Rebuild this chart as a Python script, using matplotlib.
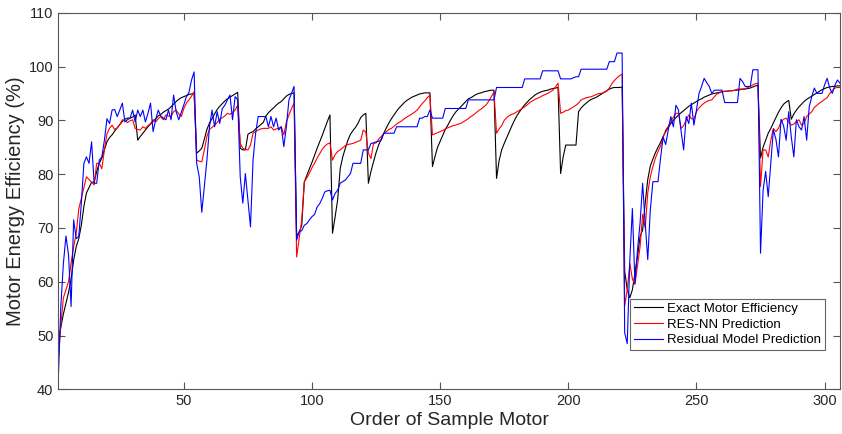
import numpy as np
import matplotlib.pyplot as plt

plt.rcParams['font.family'] = ['Liberation Sans', 'DejaVu Sans']

# exact motor efficiency (%), one value per sample motor
exact = [
    49, 51.5, 54, 56, 58, 60.5, 64, 66.5, 68, 70.5,
    74, 76.5, 77.5, 78.5, 78.5, 80.5, 82, 83, 84.5, 86,
    86.8, 87.3, 88, 88.6, 89.2, 89.8, 90.2, 90.4, 90.4, 90.6,
    91, 86.3, 87, 87.6, 88.2, 88.8, 89.3, 89.8, 90.3, 90.8,
    91.1, 91.5, 91.8, 92.1, 92.5, 93, 93.5, 93.9, 94.2, 94.4,
    94.6, 94.8, 94.9, 95, 83.9, 84.3, 84.8, 86.5, 88.3, 89.5,
    90.3, 91.2, 92, 92.6, 93.1, 93.6, 94, 94.3, 94.6, 94.9,
    95.2, 84.8, 84.5, 84.5, 87.4, 87.7, 87.9, 88.4, 88.8, 89.2,
    89.6, 90.8, 91.4, 91.9, 92.3, 92.8, 93.2, 93.5, 94, 94.5,
    94.8, 95, 95.1, 68.5, 69.2, 70.5, 78.5, 79.8, 81, 82.2,
    83.5, 84.8, 86, 87.2, 88.5, 89.8, 91, 69, 72, 75.2,
    81, 83.2, 84.8, 86.3, 87.4, 88.1, 88.7, 89.5, 90.5, 91,
    91.3, 78.3, 80.5, 82.3, 84, 85.4, 86.5, 87.6, 88.6, 89.5,
    90.3, 91, 91.7, 92.3, 92.8, 93.3, 93.7, 94, 94.3, 94.5,
    94.7, 94.9, 95, 95.1, 95.1, 95.1, 81.4, 83.3, 85, 86.1,
    87.2, 88.3, 89.1, 90, 90.8, 91.5, 92, 92.5, 93, 93.5,
    94, 94.2, 94.5, 94.8, 95, 95.1, 95.3, 95.4, 95.5, 95.6,
    95.6, 79.2, 82.5, 84.5, 85.7, 86.8, 87.9, 89, 90, 90.9,
    91.6, 92.3, 92.9, 93.4, 93.9, 94.3, 94.7, 95, 95.2, 95.4,
    95.5, 95.6, 95.8, 95.9, 96, 96.1, 80.1, 83.2, 85.4, 85.4,
    85.4, 85.4, 85.4, 91.6, 92.3, 92.8, 93.2, 93.6, 93.9, 94.1,
    94.3, 94.6, 94.9, 95.2, 95.5, 95.8, 96, 96.1, 96.1, 96.1,
    96.2, 62, 58.5, 57, 58.5, 61.6, 64.7, 68.4, 69.6, 74.6,
    79, 81.5, 82.8, 84, 85, 85.9, 87, 87.9, 88.7, 89.4,
    90, 90.5, 91, 91.4, 91.8, 92.2, 92.6, 92.9, 93.2, 93.5,
    93.8, 94, 94.3, 94.5, 94.7, 94.9, 95, 95.1, 95.2, 95.3,
    95.4, 95.4, 95.5, 95.5, 95.6, 95.6, 95.7, 95.8, 95.8, 95.9,
    96, 96.2, 96.4, 96.5, 83, 85, 86.3, 87.6, 88.5, 89.5,
    90.5, 91.5, 92.3, 93, 93.4, 93.7, 90.2, 91.2, 91.9, 92.5,
    93, 93.5, 93.9, 94.2, 94.5, 94.8, 95.1, 95.4, 95.7, 95.9,
    96.1, 96.2, 96.3, 96.3, 96.4, 96.4,
]

# RES-NN prediction
res_nn = [
    45.5, 52, 57, 58.5, 60, 63.5, 66.5, 69, 73.5, 75.5,
    77.5, 79.5, 79, 78.5, 78, 82, 82, 81, 84.5, 87.5,
    88.5, 89.1, 88.3, 88.6, 89.2, 90.1, 89.9, 89.6, 89.9, 90.1,
    88.5, 88.3, 88.2, 88.8, 88.5, 89, 89.4, 90.1, 89.7, 90.3,
    90.7, 90.1, 91, 90.8, 90.7, 91.6, 91.9, 91.2, 90.7, 92.2,
    93.2, 93.8, 94.5, 95.3, 82.6, 82.4, 82.3, 84.5, 87, 88.3,
    88.7, 89.1, 89.6, 90.2, 90.5, 90.8, 91.3, 91.1, 91.5, 91.9,
    92.8, 85.7, 84.8, 84.6, 84.5, 85.4, 87.6, 87.9, 88.2, 88.4,
    88.5, 88.5, 88.5, 88.8, 88.2, 88.4, 88.5, 88.8, 87.3, 89.7,
    91, 92.2, 93.2, 64.6, 68, 71.5, 78.6, 79.3, 80.2, 81.2,
    82, 83, 83.8, 84.6, 85.2, 85.6, 85.8, 82.6, 83.6, 84.2,
    84.5, 84.9, 85.3, 85.5, 85.6, 85.7, 85.9, 86.1, 86.3, 88.2,
    87.8, 83.9, 82.9, 85.7, 85.8, 86.5, 87, 87.5, 87.9, 88.3,
    88.5, 88.9, 89.3, 89.6, 89.9, 90.3, 90.6, 90.9, 91.2, 91.5,
    91.9, 92.5, 93.1, 93.6, 94.2, 94.7, 87.3, 87.5, 87.7, 87.9,
    88.1, 88.4, 88.6, 88.8, 89, 89.1, 89.3, 89.4, 89.7, 90,
    90.3, 90.7, 91, 91.4, 91.8, 92.1, 92.5, 92.9, 93.6, 94.4,
    95.3, 87.6, 88.4, 89, 90, 90.5, 90.9, 91.1, 91.3, 91.6,
    91.9, 92.2, 92.5, 92.9, 93.3, 93.6, 93.9, 94.1, 94.3, 94.6,
    94.8, 95, 95.3, 95.6, 96.2, 96.9, 91.3, 91.5, 91.8, 91.9,
    92.2, 92.5, 92.8, 93.2, 93.8, 94, 94.2, 94.3, 94.4, 94.6,
    94.8, 95, 95, 95.2, 95.4, 96, 96.8, 97.4, 97.9, 98.3,
    98.6, 55.5, 58.5, 63.4, 60.5, 59.5, 63, 66.5, 72.5, 70,
    76.5, 79.5, 81.4, 83, 84.2, 85.2, 86.8, 88.2, 88.9, 89.8,
    90.6, 91.3, 91.3, 88.5, 89, 90.1, 91, 90.3, 90.2, 91.6,
    92.3, 92.8, 93.2, 93.5, 93.7, 93.8, 94.4, 94.9, 95.1, 95.3,
    95.4, 95.4, 95.5, 95.5, 95.6, 95.8, 95.8, 95.8, 95.9, 96.1,
    96.3, 96.6, 96.8, 96.9, 77.7, 84.5, 84.5, 83.2, 86.3, 88.5,
    87.9, 88.5, 89.7, 90.2, 90.4, 89.7, 89.1, 89.3, 89.8, 90.1,
    89.1, 89.4, 90.7, 91.2, 91.6, 92.4, 92.8, 93.2, 93.5, 93.9,
    94.2, 95, 95.5, 96, 96.1, 96.1,
]

# residual model prediction
residual = [
    41.7, 55.4, 63.4, 68.5, 65, 55.4, 71.5, 68, 68.4, 74.6,
    82, 83.2, 82, 86, 78.3, 78.3, 82.6, 83.2, 86.3, 90.3,
    89.4, 91.9, 92, 90.7, 91.9, 93.2, 89.7, 90.1, 90.4, 91.9,
    89.7, 91.9, 90.7, 91.9, 89.7, 91.3, 93.2, 87.9, 90.1, 91.9,
    90.8, 90.4, 90.1, 91.9, 90.1, 94.7, 91.6, 90.1, 91.5, 92.9,
    94.4, 95.2, 97.5, 99, 82, 79.5, 72.9, 77.7, 82.6, 88.8,
    91.9, 88.8, 91.6, 89.4, 92.2, 92.8, 93.8, 94.7, 90.1, 94.4,
    93.8, 79.5, 74.6, 80.1, 75.2, 70.2, 82.6, 87.6, 90.7, 90.7,
    90.7, 90.7, 88.8, 90.7, 88.8, 90.4, 88.2, 88.8, 85.1, 88.8,
    93.8, 95, 96.3, 67.7, 69.3, 69.5, 70.5, 70.8, 71.5, 72.1,
    72.5, 73.9, 74.5, 75.5, 76.7, 76.9, 77, 75.2, 76.4, 77,
    78.3, 78.6, 78.9, 79.5, 80.1, 82, 82, 82, 82, 84.5,
    84.5, 84.5, 85.7, 85.8, 86, 86.1, 86.3, 87.6, 87.6, 87.6,
    87.6, 87.6, 88.8, 88.8, 88.8, 88.8, 88.8, 88.8, 88.8, 88.8,
    88.8, 90.4, 90.4, 90.7, 90.7, 91.9, 90.4, 90.4, 90.4, 90.4,
    90.4, 92.2, 92.2, 92.2, 92.2, 92.2, 92.2, 92.2, 92.2, 92.2,
    93.8, 93.8, 93.8, 93.8, 93.8, 93.8, 93.8, 93.8, 93.8, 93.8,
    93.8, 96.1, 96.1, 96.1, 96.1, 96.1, 96.1, 96.1, 96.1, 96.1,
    96.1, 96.1, 97.7, 97.7, 97.7, 97.7, 97.7, 97.7, 97.7, 99.2,
    99.2, 99.2, 99.2, 99.2, 99.2, 99.2, 97.7, 97.7, 97.7, 97.7,
    97.7, 97.9, 98.1, 98.1, 99.5, 99.5, 99.5, 99.5, 99.5, 99.5,
    99.5, 99.5, 99.5, 99.5, 99.5, 100.9, 100.9, 100.9, 102.5, 102.5,
    102.5, 50.5, 48.5, 64, 73.6, 59.7, 65.9, 70.9, 78.3, 70.9,
    64.1, 73.3, 78.6, 78.6, 78.6, 83, 86.9, 85.5, 88.2, 90.7,
    88.8, 92.8, 91.9, 88, 84.5, 90.7, 89.4, 93.2, 89.1, 91.9,
    95, 96.3, 97.8, 97, 96.3, 95, 95.6, 95.6, 95.6, 95.6,
    93.3, 93.3, 93.3, 93.3, 93.3, 93.3, 97.8, 97.2, 96.3, 96.3,
    96.3, 99.4, 99.4, 99.4, 65.3, 77, 80.5, 75.8, 82, 88.2,
    86.5, 83.2, 90.2, 89, 86.3, 91.6, 86.9, 83.2, 90.1, 88.8,
    88.2, 90.7, 86.3, 92.5, 94.4, 96, 95, 95, 95, 96.6,
    97.8, 96, 95, 96.5, 97.5, 96.9,
]

assert len(exact) == len(res_nn) == len(residual) == 306
motor = np.arange(1, len(exact) + 1)

fig = plt.figure(figsize=(8.42, 4.34), dpi=100)
ax = fig.add_axes([0.0692, 0.103, 0.9284, 0.8677])

ax.plot(motor, exact, color='black', lw=0.8, label='Exact Motor Efficiency')
ax.plot(motor, res_nn, color='red', lw=0.8, label='RES-NN Prediction')
ax.plot(motor, residual, color='blue', lw=0.8, label='Residual Model Prediction')

ax.set_xlim(1, 306)
ax.set_ylim(40, 110)
ax.set_xticks([50, 100, 150, 200, 250, 300])
ax.set_yticks(range(40, 111, 10))
ax.tick_params(direction='in', top=True, right=True, length=5, width=0.8,
               color='#555555', labelsize=10.5, labelcolor='#262626')
for s in ax.spines.values():
    s.set_color('#555555')
    s.set_linewidth(0.8)

ax.set_xlabel('Order of Sample Motor', fontsize=14, color='#262626', labelpad=3)
ax.set_ylabel('Motor Energy Efficiency (%)', fontsize=14.5, color='#262626', labelpad=3)

leg = ax.legend(loc='lower right', bbox_to_anchor=(0.981, 0.104), fontsize=9.5,
                frameon=True, fancybox=False, handlelength=2.2, handletextpad=0.3,
                borderpad=0.3, labelspacing=0.25, borderaxespad=0)
leg.get_frame().set_edgecolor('#404040')
leg.get_frame().set_linewidth(0.8)

fig.savefig('out.png', dpi=100)
